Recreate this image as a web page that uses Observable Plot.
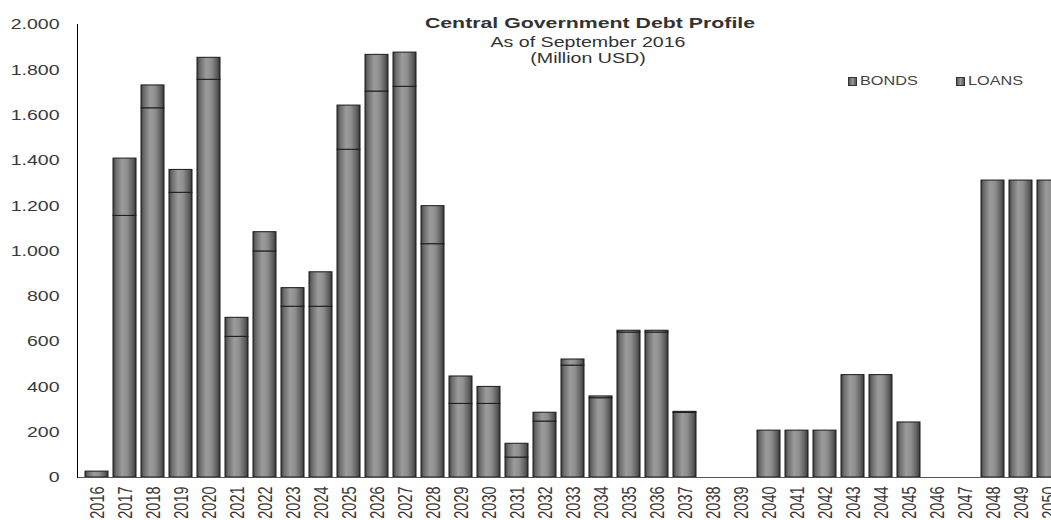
<!DOCTYPE html>
<html>
<head>
<meta charset="utf-8">
<script src="https://cdn.jsdelivr.net/npm/d3@7"></script>
<script src="https://cdn.jsdelivr.net/npm/@observablehq/plot@0.6"></script>
<style>
  html, body { margin: 0; padding: 0; background: #fff; overflow: hidden; }
  #wrap { position: relative; width: 1051px; height: 520px; font-family: "Liberation Sans", Arial, sans-serif; color: #333; }
  .t { position: absolute; white-space: nowrap; line-height: 1; transform-origin: center; }
  .lg { position: absolute; white-space: nowrap; line-height: 1; font-size: 13px; color: #444; transform-origin: left center; transform: scaleX(1.25); }
  .sw { position: absolute; width: 7px; height: 7px; border: 1px solid #333; background: linear-gradient(90deg, #555, #9a9a9a, #555); }
</style>
</head>
<body>
<div id="wrap"></div>
<script>
const years = ["2016","2017","2018","2019","2020","2021","2022","2023","2024","2025","2026","2027","2028","2029","2030","2031","2032","2033","2034","2035","2036","2037","2038","2039","2040","2041","2042","2043","2044","2045","2046","2047","2048","2049","2050"];
const bonds = [26,1155,1630,1257,1756,621,998,754,754,1447,1704,1725,1030,325,325,88,247,494,350,640,640,285,0,0,207,207,207,452,452,243,0,0,1311,1311,1311];
const loans = [0,253,101,101,97,84,85,82,152,195,162,151,168,121,75,61,39,27,8,8,8,5,0,0,0,0,0,0,0,0,0,0,0,0,0];
const yTicks = [0,200,400,600,800,1000,1200,1400,1600,1800,2000];
const seriesNames = ["BONDS","LOANS"];
const titleText = "Central Government Debt Profile";
const subtitleText = "As of September 2016";
const unitText = "(Million USD)";

const data = [];
years.forEach((yr, i) => {
  if (bonds[i] > 0) data.push({year: yr, series: seriesNames[0], value: bonds[i]});
  if (loans[i] > 0) data.push({year: yr, series: seriesNames[1], value: loans[i]});
});

const fmt = d3.formatLocale({decimal: ",", thousands: ".", grouping: [3], currency: ["", ""]}).format(",d");

const chart = Plot.plot({
  width: 1051,
  height: 520,
  marginLeft: 77,
  marginRight: 0,
  marginTop: 24,
  marginBottom: 43,
  style: {fontFamily: "Liberation Sans, Arial, sans-serif", color: "#333", background: "#fff"},
  x: {type: "band", domain: years, range: [77, 1067], paddingInner: 0.19, paddingOuter: 0.07, label: null},
  y: {domain: [0, 2000], label: null},
  marks: [
    Plot.barY(data, {x: "year", y: "value", z: "series", fill: "url(#barGrad)", stroke: "#1a1a1a", strokeWidth: 1}),
    Plot.ruleY([0], {stroke: "#555", strokeWidth: 1}),
    Plot.frame({anchor: "left", stroke: "#000", strokeWidth: 1}),
    Plot.axisY({ticks: yTicks, tickFormat: fmt, tickSize: 0, tickPadding: 18, fontSize: 15, label: null, fill: "#3a3a3a"}),
    Plot.axisX({tickRotate: -90, tickSize: 0, tickPadding: 9, fontSize: 14.5, label: null, fill: "#3a3a3a"})
  ]
});

// gradient for cylinder-like bars
const defs = document.createElementNS("http://www.w3.org/2000/svg", "defs");
defs.innerHTML = `<linearGradient id="barGrad" x1="0" x2="1" y1="0" y2="0">
  <stop offset="0%" stop-color="#3e3e3e"/>
  <stop offset="12%" stop-color="#6a6a6a"/>
  <stop offset="40%" stop-color="#9c9c9c"/>
  <stop offset="62%" stop-color="#8e8e8e"/>
  <stop offset="88%" stop-color="#5a5a5a"/>
  <stop offset="100%" stop-color="#363636"/>
</linearGradient>`;
chart.insertBefore(defs, chart.firstChild);

function stretch(selector, sx, sy) {
  chart.querySelectorAll(selector).forEach(t => {
    let tr = t.getAttribute("transform") || "";
    const x = t.getAttribute("x"), y = t.getAttribute("y");
    let tx = 0, ty = 0;
    if (x != null && !isNaN(+x)) { tx = +x; t.removeAttribute("x"); }
    if (y != null && !isNaN(+y)) { ty = +y; t.removeAttribute("y"); }
    t.setAttribute("transform", `${tr} translate(${tx},${ty}) scale(${sx},${sy})`);
  });
}
stretch('g[aria-label="y-axis tick label"] text', 1.3, 1);
stretch('g[aria-label="x-axis tick label"] text', 1, 1.4);

const wrap = document.getElementById("wrap");
wrap.appendChild(chart);

function addText(txt, cls, left, top, size, bold, sx) {
  const d = document.createElement("div");
  d.className = cls;
  d.textContent = txt;
  d.style.left = left + "px";
  d.style.top = top + "px";
  d.style.fontSize = size + "px";
  if (bold) d.style.fontWeight = "bold";
  d.style.transform = `translateX(-50%) scaleX(${sx})`;
  wrap.appendChild(d);
}
addText(titleText, "t", 590, 15, 15, true, 1.42);
addText(subtitleText, "t", 588, 35, 14, false, 1.4);
addText(unitText, "t", 588, 51, 14, false, 1.4);

function addLegend(name, sx, tx) {
  const s = document.createElement("div");
  s.className = "sw";
  s.style.left = sx + "px";
  s.style.top = "77px";
  wrap.appendChild(s);
  const l = document.createElement("div");
  l.className = "lg";
  l.textContent = name;
  l.style.left = tx + "px";
  l.style.top = "74px";
  wrap.appendChild(l);
}
addLegend(seriesNames[0], 848, 860);
addLegend(seriesNames[1], 956, 968);
</script>
</body>
</html>
